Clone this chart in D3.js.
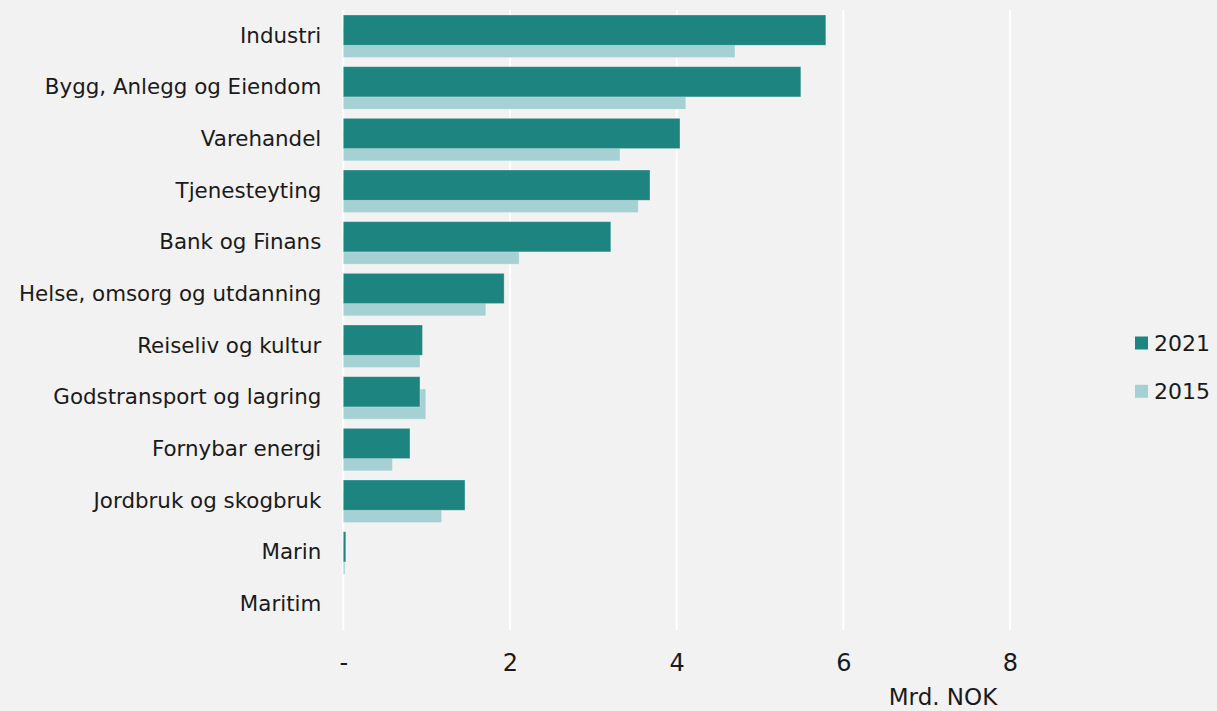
<!DOCTYPE html>
<html>
<head>
<meta charset="utf-8">
<script src="https://cdn.jsdelivr.net/npm/d3@7"></script>
<style>
  html, body { margin: 0; padding: 0; background: #f2f2f2; }
  svg { display: block; }
  text { font-family: "DejaVu Sans", sans-serif; fill: #1a1a1a; }
</style>
</head>
<body>
<div id="chart"></div>
<script>
// Categories, top to bottom
const categories = [
  'Industri', 'Bygg, Anlegg og Eiendom', 'Varehandel', 'Tjenesteyting',
  'Bank og Finans', 'Helse, omsorg og utdanning', 'Reiseliv og kultur',
  'Godstransport og lagring', 'Fornybar energi', 'Jordbruk og skogbruk',
  'Marin', 'Maritim'
];
// Mrd. NOK
const values2021 = [5.79, 5.49, 4.04, 3.68, 3.21, 1.93, 0.95, 0.92, 0.80, 1.46, 0.03, 0];
const values2015 = [4.70, 4.11, 3.32, 3.54, 2.11, 1.71, 0.92, 0.99, 0.59, 1.18, 0.02, 0];
const xTicks = [0, 2, 4, 6, 8];
const seriesNames = ['2021', '2015'];

const width = 1217, height = 711;
const margin = { top: 10, left: 343.3, right: 207, bottom: 81 };
const colors = { '2021': '#1e8480', '2015': '#a6d1d4' };

const svg = d3.select('#chart').append('svg')
  .attr('width', width)
  .attr('height', height);

svg.append('rect').attr('width', width).attr('height', height).attr('fill', '#f2f2f2');

const x = d3.scaleLinear().domain([0, 8]).range([margin.left, width - margin.right]);
const y = d3.scaleBand().domain(categories).range([margin.top, height - margin.bottom]);
const bw = y.bandwidth();

// gridlines
svg.append('g').selectAll('line')
  .data(xTicks)
  .join('line')
  .attr('x1', d => x(d)).attr('x2', d => x(d))
  .attr('y1', margin.top).attr('y2', height - margin.bottom)
  .attr('stroke', '#ffffff')
  .attr('stroke-width', 2);

// 2015 bars (behind, shifted down)
svg.append('g').selectAll('rect')
  .data(categories)
  .join('rect')
  .attr('x', x(0))
  .attr('y', d => y(d) + bw * 0.335)
  .attr('width', (d, i) => x(values2015[i]) - x(0))
  .attr('height', bw * 0.585)
  .attr('fill', colors['2015'])
  .attr('stroke', 'rgba(255,255,255,0.35)')
  .attr('stroke-width', 0.8);

// 2021 bars
svg.append('g').selectAll('rect')
  .data(categories)
  .join('rect')
  .attr('x', x(0))
  .attr('y', d => y(d) + bw * 0.097)
  .attr('width', (d, i) => x(values2021[i]) - x(0))
  .attr('height', bw * 0.585)
  .attr('fill', colors['2021'])
  .attr('stroke', 'rgba(255,255,255,0.35)')
  .attr('stroke-width', 0.8);

// category labels
const yAxis = d3.axisLeft(y).tickSize(0).tickPadding(22);
svg.append('g')
  .attr('transform', `translate(${x(0)},0)`)
  .call(yAxis)
  .call(g => g.select('.domain').remove())
  .call(g => g.selectAll('text')
    .attr('font-size', '21.4px')
    .attr('fill', '#1a1a1a')
    .style('font-family', '"DejaVu Sans", sans-serif'));

// x tick labels
const xAxis = d3.axisBottom(x)
  .tickValues(xTicks)
  .tickSize(0)
  .tickPadding(23.5)
  .tickFormat(d => d === 0 ? '-' : d);
svg.append('g')
  .attr('transform', `translate(0,${height - margin.bottom})`)
  .call(xAxis)
  .call(g => g.select('.domain').remove())
  .call(g => g.selectAll('text')
    .attr('font-size', '24px')
    .attr('fill', '#1a1a1a')
    .style('font-family', '"DejaVu Sans", sans-serif'));

// axis title
svg.append('text')
  .attr('x', 943)
  .attr('y', 705)
  .attr('text-anchor', 'middle')
  .attr('font-size', '23px')
  .text('Mrd. NOK');

// legend
const legend = svg.append('g').attr('transform', 'translate(1135,336.5)');
seriesNames.forEach((s, i) => {
  const g = legend.append('g').attr('transform', `translate(0,${i * 48.3})`);
  g.append('rect').attr('width', 13).attr('height', 13).attr('fill', colors[s]);
  g.append('text').attr('x', 19).attr('y', 6.5).attr('dy', '0.35em')
    .attr('font-size', '22px').text(s);
});
</script>
</body>
</html>
